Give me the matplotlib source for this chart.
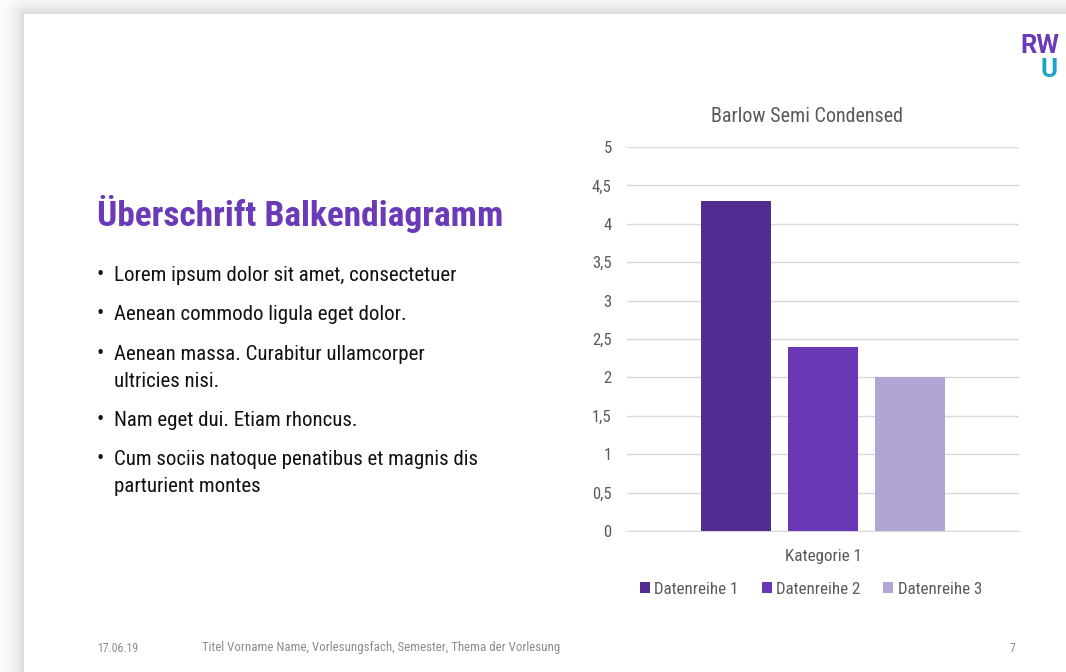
import matplotlib
matplotlib.use('Agg')
import matplotlib.pyplot as plt
import numpy as np

plt.rcParams['font.family'] = ['Roboto Condensed', 'Roboto', 'DejaVu Sans']

# chart data
categories = ['Kategorie 1']
series_names = ['Datenreihe 1', 'Datenreihe 2', 'Datenreihe 3']
series_values = [4.3, 2.4, 2.0]
series_colors = ['#522d91', '#6a37b6', '#b1a6d3']
y_ticks = [0, 0.5, 1, 1.5, 2, 2.5, 3, 3.5, 4, 4.5, 5]
y_tick_labels = ['0', '0,5', '1', '1,5', '2', '2,5', '3', '3,5', '4', '4,5', '5']

# slide texts
slide_title = 'Überschrift Balkendiagramm'
bullets = [
    ['Lorem ipsum dolor sit amet, consectetuer'],
    ['Aenean commodo ligula eget dolor.'],
    ['Aenean massa. Curabitur ullamcorper', 'ultricies nisi.'],
    ['Nam eget dui. Etiam rhoncus.'],
    ['Cum sociis natoque penatibus et magnis dis', 'parturient montes'],
]
bullet_rows = [281, 320, 360, 426, 465]  # baseline of first line, px from top
footer_date = '17.06.19'
footer_text = 'Titel Vorname Name, Vorlesungsfach, Semester, Thema der Vorlesung'
page_no = '7'

W, H = 1066, 672
fig = plt.figure(figsize=(W / 100, H / 100), dpi=100)

# slide drop shadow on the top and left edge
bg = fig.add_axes([0, 0, 1, 1], zorder=-10)
xx, yy = np.meshgrid(np.arange(W), np.arange(H))
dx = np.clip(24 - xx, 0, None)
dy = np.clip(14 - yy, 0, None)
d = np.sqrt(dx ** 2 + dy ** 2)
shade = np.where((xx >= 24) & (yy >= 14), 1.0, 1 - 0.15 * np.exp(-d / 10.0))
bg.imshow(np.dstack([shade] * 3), aspect='auto', extent=(0, W, H, 0))
bg.axis('off')

def fx(px):
    return px / W

def fy(py):
    return 1 - py / H

# bar chart
ax = fig.add_axes([fx(627), fy(531), fx(1019) - fx(627), fy(147) - fy(531)])
offsets = np.arange(len(series_values)) - (len(series_values) - 1) / 2
for off, val, col, name in zip(offsets, series_values, series_colors, series_names):
    ax.bar(off, val, width=0.8, color=col, label=name, zorder=3)
ax.set_xlim(-2.253, 2.253)
ax.set_ylim(0, 5)
ax.set_yticks(y_ticks)
ax.set_yticklabels(y_tick_labels)
ax.set_xticks([0])
ax.set_xticklabels(categories)
ax.grid(axis='y', color='#d9d9d9', lw=1, zorder=0)
for s in ['top', 'right', 'left']:
    ax.spines[s].set_visible(False)
ax.spines['bottom'].set_color('#d9d9d9')
ax.tick_params(axis='y', length=0, pad=11, labelsize=12, labelcolor='#595959')
ax.tick_params(axis='x', length=0, pad=13, labelsize=12.3, labelcolor='#595959')

fig.text(fx(807), fy(116), 'Barlow Semi Condensed', ha='center', va='center',
         fontsize=14.5, color='#595959')
fig.legend(loc='center', bbox_to_anchor=(fx(811), fy(589)), ncol=3, frameon=False,
           fontsize=12.2, labelcolor='#595959', handlelength=0.6, handleheight=0.6,
           handletextpad=0.25, columnspacing=1.35, borderaxespad=0)

# left side text
fig.text(fx(97), fy(214), slide_title, ha='left', va='center', fontsize=25.5,
         fontweight='bold', color='#6a3ab8')
for row, lines in zip(bullet_rows, bullets):
    fig.text(fx(97), fy(row), '•', ha='left', va='baseline', fontsize=15.5, color='#111111')
    for k, txt in enumerate(lines):
        fig.text(fx(114), fy(row + 27 * k), txt, ha='left', va='baseline', fontsize=15,
                 color='#111111')

# footer
fig.text(fx(97), fy(648), footer_date, ha='left', va='center', fontsize=8.5, color='#8c8c8c')
fig.text(fx(202), fy(648), footer_text, ha='left', va='center', fontsize=9.3, color='#8c8c8c')
fig.text(fx(1015), fy(648), page_no, ha='right', va='center', fontsize=8.5, color='#8c8c8c')

# logo
fig.text(fx(1020), fy(58), 'RW', ha='left', va='bottom', fontsize=18.5, fontweight='bold',
         color='#6a3ab8', family='Roboto')
fig.text(fx(1041), fy(58), 'U', ha='left', va='top', fontsize=18.5, fontweight='bold',
         color='#1ba3c6', family='Roboto')

fig.savefig('out.png', dpi=100)
